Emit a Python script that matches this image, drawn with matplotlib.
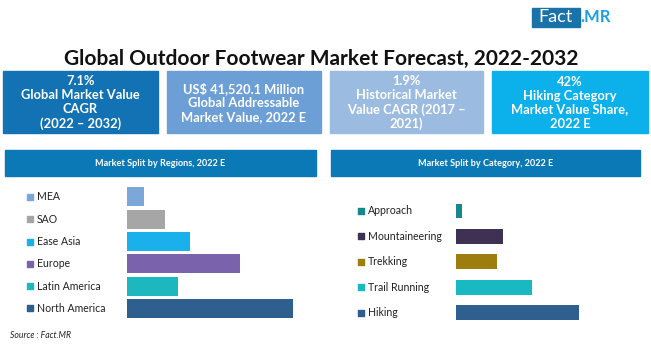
import matplotlib.pyplot as plt
from matplotlib.patches import Rectangle
from matplotlib.transforms import blended_transform_factory
import numpy as np

plt.rcParams['font.family'] = ['Lato', 'DejaVu Sans']

# Data (share of market value, %)
regions = ['MEA', 'SAO', 'Ease Asia', 'Europe', 'Latin America', 'North America']
region_share = [3.8, 8.5, 14.1, 25.2, 11.4, 37.0]
region_colors = ['#7ba7d9', '#a6a6a6', '#19b0ec', '#7b62ad', '#1db8bf', '#2f5f8f']

categories = ['Approach', 'Mountaineering', 'Trekking', 'Trail Running', 'Hiking']
category_share = [2.0, 16.0, 14.0, 26.0, 42.0]
category_colors = ['#16878b', '#3e3154', '#9c7d0d', '#19b9c1', '#2f5f8f']

kpi_texts = [
    '7.1%\nGlobal Market Value\nCAGR\n(2022 – 2032)',
    'US$ 41,520.1 Million\nGlobal Addressable\nMarket Value, 2022 E',
    '1.9%\nHistorical Market\nValue CAGR (2017 –\n2021)',
    '42%\nHiking Category\nMarket Value Share,\n2022 E',
]
kpi_colors = ['#1272b3', '#6c9fd6', '#9cbbe0', '#0cb0eb']

W, H = 651, 350
fig = plt.figure(figsize=(W / 100, H / 100), dpi=100)

# full-figure canvas in pixel coordinates (y downwards)
bg = fig.add_axes([0, 0, 1, 1])
bg.set_xlim(0, W)
bg.set_ylim(H, 0)
bg.axis('off')

# logo
bg.add_patch(Rectangle((532, 8), 48, 19, color='#1a73a8'))
bg.text(556, 17.5, 'Fact', color='white', fontsize=13, ha='center', va='center')
bg.text(580, 17.5, '.MR', color='#1da1e0', fontsize=12, fontweight='bold',
        ha='left', va='center')

# title
bg.text(321, 59, 'Global Outdoor Footwear Market Forecast, 2022-2032',
        fontsize=15, fontweight='bold', ha='center', va='center', color='#111111')

# KPI boxes
box_x = [3, 167, 330, 492]
box_w = [155, 154, 153, 156]
for x, w, txt, c in zip(box_x, box_w, kpi_texts, kpi_colors):
    bg.add_patch(Rectangle((x, 71), w, 62, color=c))
    bg.text(x + w / 2, 102.5, txt, color='white', fontsize=9.3, fontweight='bold',
            ha='center', va='center', linespacing=1.2)

# section headers
for x0, x1, txt in [(5, 316, 'Market Split by Regions, 2022 E'),
                    (331, 640, 'Market Split by Category, 2022 E')]:
    bg.add_patch(Rectangle((x0, 150), x1 - x0, 26, color='#0b79b6'))
    bg.text((x0 + x1) / 2, 163, txt, color='white', fontsize=6.6,
            fontweight='bold', ha='center', va='center')

bg.text(10, 336, 'Source : Fact.MR', fontsize=6.2, style='italic',
        ha='left', va='center', color='#222222')


def split_chart(rect, labels, values, colors, xmax, bar_h, sq_x, txt_x):
    ax = fig.add_axes(rect)
    y = np.arange(len(labels))
    ax.barh(y, values, height=bar_h, color=colors)
    ax.set_xlim(0, xmax)
    ax.set_ylim(len(labels) - 0.5, -0.5)
    ax.axis('off')
    tr = blended_transform_factory(fig.transFigure, ax.transData)
    for yi, lab, c in zip(y, labels, colors):
        ax.scatter([sq_x / W], [yi], marker='s', s=22, color=c,
                   transform=tr, clip_on=False)
        ax.text(txt_x / W, yi, lab, transform=tr, fontsize=7.6,
                ha='left', va='center', color='#222222')
    return ax


split_chart([127 / W, 30.4 / H, 179.6 / W, 133.8 / H], regions, region_share,
            region_colors, 40, 0.85, 30, 37)
split_chart([456 / W, 24.7 / H, 146.5 / W, 127 / H], categories, category_share,
            category_colors, 50, 0.59, 361, 368)

fig.savefig('out.png', dpi=100)
